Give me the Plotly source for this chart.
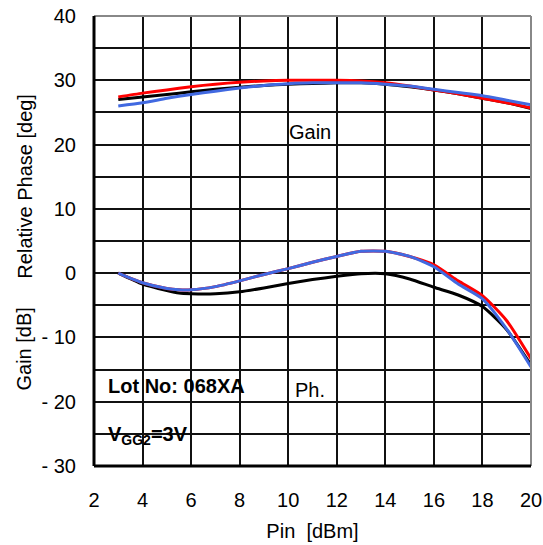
import plotly.graph_objects as go

# ---- data ----
pin_gain = [3, 4, 5, 6, 7, 8, 9, 10, 11, 12, 13, 14, 15, 16, 17, 18, 19, 20]
gain_black = [27.0, 27.4, 27.8, 28.2, 28.6, 28.9, 29.2, 29.4, 29.5, 29.6, 29.6, 29.4, 29.0, 28.5, 27.9, 27.2, 26.5, 25.6]
gain_red = [27.4, 28.0, 28.5, 29.0, 29.4, 29.7, 29.9, 30.0, 30.0, 30.0, 29.9, 29.6, 29.1, 28.5, 27.9, 27.2, 26.5, 25.7]
gain_blue = [26.0, 26.5, 27.2, 27.8, 28.3, 28.8, 29.2, 29.45, 29.6, 29.6, 29.6, 29.4, 29.1, 28.6, 28.1, 27.6, 26.9, 26.2]

pin_phase = [3, 4, 5, 5.5, 6, 7, 8, 9, 10, 11, 12, 13, 14, 15, 16, 17, 18, 19, 20]
phase_black = [0, -1.7, -2.7, -3.1, -3.2, -3.2, -2.9, -2.3, -1.6, -1.0, -0.5, -0.1, -0.1, -0.9, -2.2, -3.4, -5.2, -8.8, -14.3]
phase_red = [0, -1.5, -2.4, -2.6, -2.6, -2.1, -1.2, -0.2, 0.7, 1.7, 2.6, 3.4, 3.4, 2.6, 1.3, -1.2, -3.5, -7.4, -13.3]
phase_blue = [0, -1.5, -2.4, -2.6, -2.6, -2.1, -1.2, -0.2, 0.7, 1.7, 2.6, 3.4, 3.4, 2.6, 1.0, -1.7, -4.0, -8.7, -14.6]

x_ticks = [2, 4, 6, 8, 10, 12, 14, 16, 18, 20]
y_ticks = [-30, -20, -10, 0, 10, 20, 30, 40]
y_tick_labels = ["- 30", "- 20", "- 10", "0", "10", "20", "30", "40"]

colors = {"black": "#000000", "red": "#FF0000", "blue": "#4169E1"}

fig = go.Figure()
for xs, ys, c in [(pin_gain, gain_black, "black"), (pin_gain, gain_red, "red"), (pin_gain, gain_blue, "blue"),
                  (pin_phase, phase_black, "black"), (pin_phase, phase_red, "red"), (pin_phase, phase_blue, "blue")]:
    fig.add_trace(go.Scatter(x=xs, y=ys, mode="lines",
                             line=dict(color=colors[c], width=3, shape="spline", smoothing=0.6),
                             showlegend=False, hoverinfo="skip"))

font = dict(family="Liberation Sans, Arial, sans-serif", size=20, color="#000")

fig.update_layout(
    width=543, height=545,
    margin=dict(l=94, r=12, t=16, b=79, autoexpand=False),
    paper_bgcolor="white", plot_bgcolor="white",
    font=font,
    xaxis=dict(range=[2, 20], tickvals=x_ticks, showgrid=True, gridcolor="#111", gridwidth=2,
               showline=False, zeroline=False, ticks="", ticklabelstandoff=20,
               title=dict(text="Pin  [dBm]", standoff=13, font=font)),
    yaxis=dict(range=[-30, 40], tickvals=y_ticks, ticktext=y_tick_labels,
               showgrid=True, gridcolor="#111", gridwidth=2, showline=False, zeroline=False,
               ticks="", ticklabelstandoff=17, ticklabeloverflow="allow",
               minor=dict(dtick=5, showgrid=True, gridcolor="#111", gridwidth=2)),
    shapes=[
        dict(type="line", xref="paper", yref="paper", x0=0, x1=1, y0=1, y1=1, line=dict(color="#888", width=2)),
        dict(type="line", xref="paper", yref="paper", x0=1, x1=1, y0=0, y1=1, line=dict(color="#888", width=2)),
        dict(type="line", xref="paper", yref="paper", x0=0, x1=0, y0=0, y1=1, line=dict(color="#000", width=3)),
        dict(type="line", xref="paper", yref="paper", x0=0, x1=1, y0=0, y1=0, line=dict(color="#000", width=3)),
    ],
    annotations=[
        dict(text="Relative Phase [deg]", textangle=-90, xref="paper", yref="paper", x=-0.16, y=0.621,
             xanchor="center", yanchor="middle", showarrow=False, font=font),
        dict(text="Gain [dB]", textangle=-90, xref="paper", yref="paper", x=-0.16, y=0.259,
             xanchor="center", yanchor="middle", showarrow=False, font=font),
        dict(text="Gain", x=10.9, y=22.0, showarrow=False, font=font),
        dict(text="Ph.", x=10.9, y=-18.2, showarrow=False, font=font),
        dict(text="<b>Lot No: 068XA</b>", x=2.5, y=-17.6, xanchor="left", showarrow=False, font=font),
        dict(text="<b>V<sub>GG2</sub>=3V</b>", x=2.5, y=-25.2, xanchor="left", showarrow=False, font=font),
    ],
)

fig.write_html("out.html", config={"displayModeBar": False},
               post_script="document.body.style.margin='0';")
